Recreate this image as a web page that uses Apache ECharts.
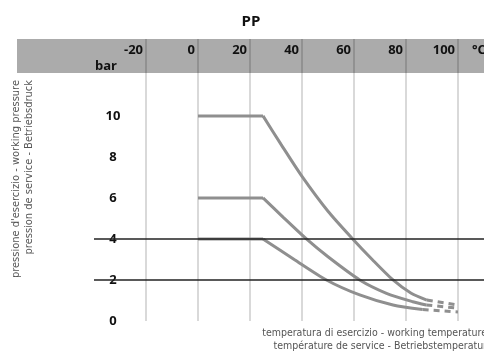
<!DOCTYPE html>
<html>
<head>
<meta charset="utf-8">
<script src="https://cdn.jsdelivr.net/npm/echarts@6/dist/echarts.min.js"></script>
<style>
  html, body { margin: 0; padding: 0; background: #fff; }
  #main { width: 484px; height: 356px; }
</style>
</head>
<body>
<div id="main"></div>
<script>
// temperature ticks (°C) and pressure ticks (bar)
var tempTicks = [-20, 0, 20, 40, 60, 80, 100];
var barTicks = [0, 2, 4, 6, 8, 10];
var refLines = [4, 2];

// curves: [°C, bar]
// flat part, falling part, dashed tail
var flat10 = [[0, 10], [25, 10]];
var fall10 = [[25, 10], [32, 8.6], [40, 7.05], [50, 5.35], [59.5, 4.0], [67, 3.0], [75, 2.0], [82, 1.35], [88, 1.02]];
var tail10 = [[88, 1.02], [100, 0.78]];
var flat6 = [[0, 6], [25, 6]];
var fall6 = [[25, 6], [33, 5.03], [41.7, 4.0], [50, 3.13], [62.2, 2.0], [72.5, 1.35], [82.6, 0.94], [87.8, 0.78]];
var tail6 = [[87.8, 0.78], [99.5, 0.63]];
var flat4 = [[0, 4], [25, 4]];
var fall4 = [[25, 4], [37, 3.0], [49.4, 2.0], [62.2, 1.27], [75, 0.78], [86.4, 0.56]];
var tail4 = [[86.4, 0.56], [100, 0.44]];

var curveColor = "#8f8f8f";
var narrow = "'Liberation Sans Narrow', 'DejaVu Sans Condensed', sans-serif";

function line(data, smooth, dash) {
  return {
    type: "line",
    data: data,
    smooth: smooth,
    showSymbol: false,
    lineStyle: { color: curveColor, width: 3, type: dash || "solid" },
    silent: true,
  };
}

var chartDom = document.getElementById("main");
var myChart = echarts.init(chartDom);
var option = {
  animation: false,
  title: {
    text: "PP",
    left: 246,
    top: 9,
    textAlign: "center",
    textStyle: { fontFamily: "Open Sans", fontSize: 15, fontWeight: "bold", color: "#111" },
  },
  grid: { left: 94, right: 0, top: 39, bottom: 35 },
  xAxis: {
    type: "value",
    position: "top",
    min: -40,
    max: 110,
    interval: 20,
    axisLine: { show: false },
    axisTick: { show: false },
    splitLine: {
      show: true,
      showMinLine: false,
      showMaxLine: false,
      lineStyle: { color: "rgba(0,0,0,0.2)", width: 1.5 },
    },
    axisLabel: {
      inside: true,
      margin: 5,
      align: "right",
      padding: [0, 3, 0, 0],
      showMinLabel: false,
      showMaxLabel: false,
      fontFamily: "Open Sans",
      fontSize: 13,
      fontWeight: "bold",
      color: "#111",
      formatter: function (v) {
        return tempTicks.indexOf(v) >= 0 ? String(v) : "";
      },
    },
  },
  yAxis: {
    type: "value",
    min: 0,
    max: 13.75,
    interval: 2,
    axisLine: { show: false },
    axisTick: { show: false },
    splitLine: { show: false },
    axisLabel: {
      inside: true,
      margin: 19,
      align: "center",
      padding: [0, 0, 14, 0],
      fontFamily: "Open Sans",
      fontSize: 13,
      fontWeight: "bold",
      color: "#111",
      formatter: function (v) {
        return barTicks.indexOf(v) >= 0 ? String(v) : "";
      },
    },
  },
  graphic: [
    // header band
    { type: "rect", z: -1, shape: { x: 17, y: 39, width: 467, height: 34 }, style: { fill: "#ababab" } },
    { type: "text", x: 106, y: 66, style: { text: "bar", align: "center", verticalAlign: "middle", font: "bold 13px 'Open Sans'", fill: "#111" } },
    { type: "text", x: 472, y: 50, style: { text: "°C", align: "left", verticalAlign: "middle", font: "bold 13px 'Open Sans'", fill: "#111" } },
    // axis titles
    { type: "text", x: 16, y: 80, rotation: Math.PI / 2, style: { text: "pressione d'esercizio - working pressure", align: "right", verticalAlign: "middle", font: "11px " + narrow, fill: "#555" } },
    { type: "text", x: 29, y: 80, rotation: Math.PI / 2, style: { text: "pression de service - Betriebsdruck", align: "right", verticalAlign: "middle", font: "11px " + narrow, fill: "#555" } },
    { type: "text", x: 487, y: 333, style: { text: "temperatura di esercizio - working temperature", align: "right", verticalAlign: "middle", font: "10.5px " + narrow, fill: "#555" } },
    { type: "text", x: 487, y: 346, style: { text: "température de service - Betriebstemperatur", align: "right", verticalAlign: "middle", font: "10.5px " + narrow, fill: "#555" } },
  ],
  series: [
    Object.assign(line(flat10, false), {
      markLine: {
        silent: true,
        symbol: "none",
        label: { show: false },
        lineStyle: { color: "#222", width: 1.5, type: "solid" },
        data: refLines.map(function (v) { return { yAxis: v }; }),
      },
    }),
    line(fall10, 0.25),
    line(tail10, false, [6, 5]),
    line(flat6, false),
    line(fall6, 0.25),
    line(tail6, false, [6, 5]),
    line(flat4, false),
    line(fall4, 0.25),
    line(tail4, false, [6, 5]),
  ],
};
option && myChart.setOption(option);
</script>
</body>
</html>
